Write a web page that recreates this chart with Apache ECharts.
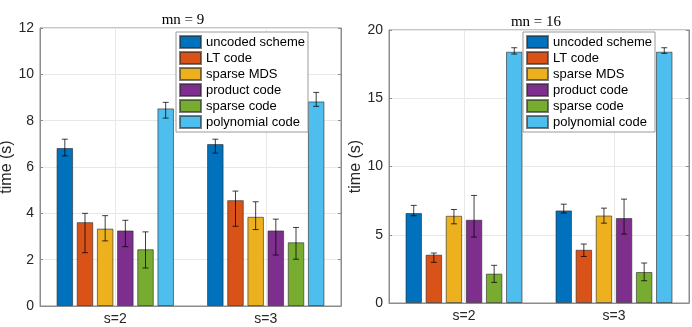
<!DOCTYPE html>
<html>
<head>
<meta charset="utf-8">
<script src="https://cdn.jsdelivr.net/npm/echarts@6/dist/echarts.min.js"></script>
<style>
	html, body { margin: 0; padding: 0; background: #fff; }
	#main { width: 692px; height: 327px; }
</style>
</head>
<body>
<div id="main"></div>
<script>
// categories and series
var categories = ['s=2', 's=3'];
var seriesNames = ['uncoded scheme', 'LT code', 'sparse MDS', 'product code', 'sparse code', 'polynomial code'];
var colors = ['#0072BD', '#D95319', '#EDB120', '#7E2F8E', '#77AC30', '#4DBEEE'];

// mn = 9 : one row per scheme, [s=2, s=3]
var mn9Mean  = [[6.82, 6.99], [3.62, 4.57], [3.34, 3.85], [3.26, 3.26], [2.45, 2.75], [8.53, 8.83]];
var mn9Upper = [[7.20, 7.20], [4.00, 4.96], [3.90, 4.50], [3.70, 3.75], [3.20, 3.39], [8.79, 9.22]];
var mn9Lower = [[6.48, 6.60], [2.30, 3.44], [2.81, 3.30], [2.56, 2.20], [1.64, 2.02], [8.11, 8.62]];

// mn = 16
var mn16Mean  = [[6.59, 6.78], [3.54, 3.90], [6.39, 6.41], [6.10, 6.22], [2.15, 2.27], [18.41, 18.41]];
var mn16Upper = [[7.15, 7.24], [3.66, 4.32], [6.85, 6.95], [7.88, 7.61], [2.76, 2.93], [18.70, 18.70]];
var mn16Lower = [[6.39, 6.59], [2.98, 3.41], [5.80, 5.85], [4.83, 5.05], [1.51, 1.63], [18.24, 18.29]];

var yTicks9 = {min: 0, max: 12, interval: 2};
var yTicks16 = {min: 0, max: 20, interval: 5};

var FONT = 'Liberation Sans';
var CAT_GAP = 0.22, BAR_GAP = 0.22;
var axisCol = '#8c8c8c';

var myChart = echarts.init(document.getElementById('main'));

function errRender(params, api) {
	var cat = api.value(0), s = api.value(1);
	var lo = api.coord([cat, api.value(2)]);
	var hi = api.coord([cat, api.value(3)]);
	var band = api.size([1, 0])[0];
	var n = seriesNames.length;
	var bw = band * (1 - CAT_GAP) / (n + (n - 1) * BAR_GAP);
	var x = lo[0] + (s - (n - 1) / 2) * bw * (1 + BAR_GAP);
	var c = 3;
	var st = {stroke: 'rgba(0,0,0,0.75)', lineWidth: 1};
	return {
		type: 'group',
		children: [
			{type: 'line', shape: {x1: x, y1: lo[1], x2: x, y2: hi[1]}, style: st},
			{type: 'line', shape: {x1: x - c, y1: lo[1], x2: x + c, y2: lo[1]}, style: st},
			{type: 'line', shape: {x1: x - c, y1: hi[1], x2: x + c, y2: hi[1]}, style: st}
		]
	};
}

function errData(lower, upper) {
	var d = [];
	for (var s = 0; s < lower.length; s++) {
		for (var c = 0; c < categories.length; c++) {
			d.push([c, s, lower[s][c], upper[s][c]]);
		}
	}
	return d;
}

var series = [];
[[mn9Mean, mn9Lower, mn9Upper], [mn16Mean, mn16Lower, mn16Upper]].forEach(function (set, g) {
	for (var s = 0; s < seriesNames.length; s++) {
		series.push({
			name: seriesNames[s],
			type: 'bar',
			xAxisIndex: g,
			yAxisIndex: g * 2,
			barCategoryGap: (CAT_GAP * 100) + '%',
			barGap: (BAR_GAP * 100) + '%',
			itemStyle: {color: colors[s], borderColor: 'rgba(40,40,40,0.6)', borderWidth: 1},
			emphasis: {disabled: true},
			data: set[0][s]
		});
	}
	series.push({
		type: 'custom',
		xAxisIndex: g,
		yAxisIndex: g * 2,
		renderItem: errRender,
		encode: {x: 0, y: [2, 3]},
		z: 10,
		data: errData(set[1], set[2])
	});
});

function xAxis(g) {
	return {
		type: 'category', gridIndex: g, data: categories,
		axisLine: {lineStyle: {color: axisCol}},
		axisTick: {inside: true, alignWithLabel: true, length: 3, lineStyle: {color: axisCol}},
		axisLabel: {color: '#262626', fontSize: 14, fontFamily: FONT, margin: 6},
		splitLine: {show: true, alignWithLabel: true, lineStyle: {color: '#e8e8e8'}}
	};
}
function yAxis(g, t, right) {
	var ax = {
		type: 'value', gridIndex: g, min: t.min, max: t.max, interval: t.interval,
		position: right ? 'right' : 'left',
		axisLine: {show: true, lineStyle: {color: axisCol}},
		axisTick: {show: true, inside: true, length: 3, lineStyle: {color: axisCol}},
		axisLabel: {show: !right, color: '#262626', fontSize: 14, fontFamily: FONT, margin: 6},
		splitLine: {show: !right, lineStyle: {color: '#e8e8e8'}}
	};
	if (!right) {
		ax.name = 'time (s)';
		ax.nameLocation = 'middle';
		ax.nameGap = 19;
		ax.nameTextStyle = {color: '#262626', fontSize: 16, fontFamily: FONT};
	}
	return ax;
}
function legend(left) {
	return {
		data: seriesNames, orient: 'vertical', left: left, top: 32,
		backgroundColor: '#fff', borderColor: '#9a9a9a', borderWidth: 1,
		padding: [3, 3], itemGap: 2, itemWidth: 21, itemHeight: 12,
		icon: 'rect', selectedMode: false,
		textStyle: {color: '#000', fontSize: 13, fontFamily: FONT}
	};
}

var option = {
	animation: false,
	title: [
		{text: 'mn = 9', left: 178, top: 8, textAlign: 'center',
			textStyle: {fontFamily: 'Liberation Serif', fontWeight: 'normal', fontSize: 15, color: '#000'}},
		{text: 'mn = 16', left: 531, top: 10, textAlign: 'center',
			textStyle: {fontFamily: 'Liberation Serif', fontWeight: 'normal', fontSize: 15, color: '#000'}}
	],
	legend: [legend(176), legend(523)],
	grid: [
		{left: 40, right: 351, top: 28, bottom: 21, show: true, borderColor: axisCol, borderWidth: 1, outerBoundsMode: 'none'},
		{left: 389, right: 3, top: 30, bottom: 24, show: true, borderColor: axisCol, borderWidth: 1, outerBoundsMode: 'none'}
	],
	xAxis: [xAxis(0), xAxis(1)],
	yAxis: [yAxis(0, yTicks9, false), yAxis(0, yTicks9, true), yAxis(1, yTicks16, false), yAxis(1, yTicks16, true)],
	series: series
};
myChart.setOption(option);
</script>
</body>
</html>
